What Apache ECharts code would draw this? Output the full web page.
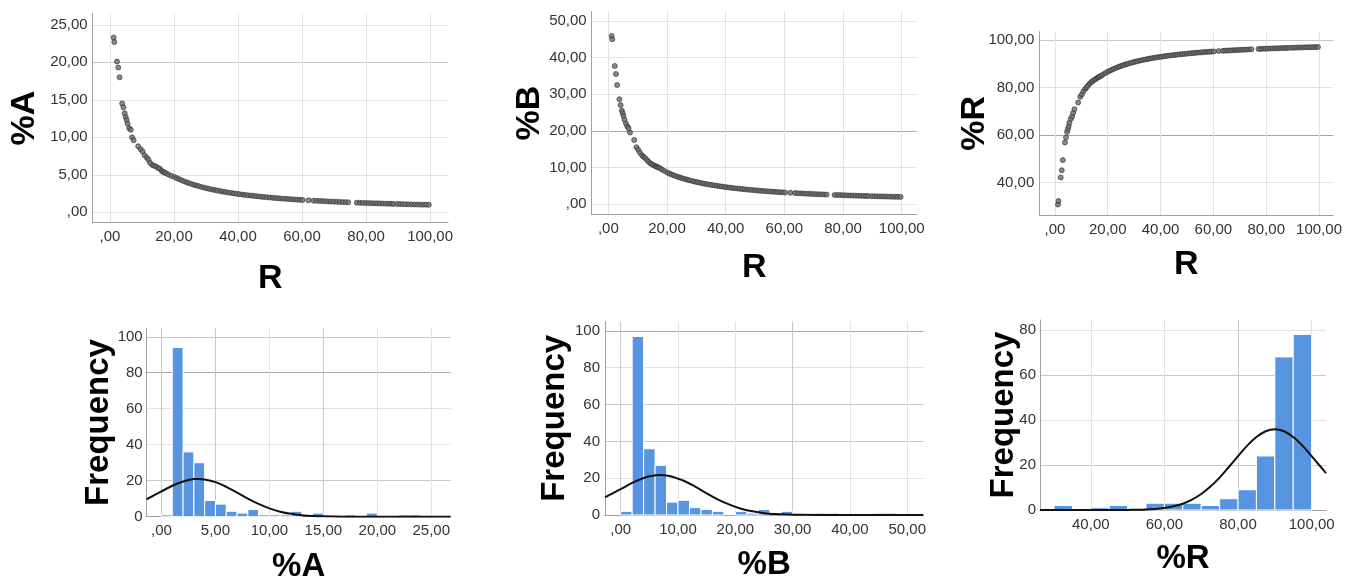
<!DOCTYPE html>
<html><head><meta charset="utf-8">
<script src="https://cdn.jsdelivr.net/npm/echarts@6/dist/echarts.min.js"></script>
<style>html,body{margin:0;padding:0;background:#fff}#c{width:1348px;height:581px}</style>
</head><body><div id="c"></div>
<script>
// ---------- data ----------
const rValues = [1.15,1.35,2.2,2.6,3.0,3.8,4.2,4.6,4.9,5.2,5.5,6.0,6.5,6.9,7.4,8.8,9.6,10.2,10.8,11.5,12.0,12.5,13.2,13.8,14.4,15.0,15.6,16.2,16.6,17.0,
17.6,18.3,19.2,
20.1,20.9,21.6,22.4,23.2,24.0,24.7,25.5,26.3,27.0,27.8,28.7,29.5,30.3,31.1,32.0,32.8,33.6,34.5,35.3,36.2,37.0,37.9,38.7,39.6,40.4,41.3,42.1,43.0,43.9,44.7,45.6,46.4,47.3,48.1,49.0,49.9,50.8,51.6,52.5,53.3,54.2,55.1,55.9,56.8,57.6,58.5,59.3,60.2,
62.0,63.6,64.5,65.4,66.3,67.2,68.1,69.0,69.9,70.8,71.7,72.6,73.5,74.4,
77.1,78.0,78.9,79.8,80.7,81.6,82.5,83.4,84.3,85.2,86.1,87.0,87.8,88.5,
89.7,90.6,91.5,92.4,93.3,94.2,95.1,96.0,96.9,97.8,98.7,99.6];

const pctA = [23.3,22.7,20.1,19.3,18.0,14.5,14.0,13.2,12.7,12.3,11.8,11.2,11.0,10.0,9.6,8.8,8.4,8.1,7.6,7.3,7.0,6.6,6.3,6.2,6.1,5.9,5.8,5.5,5.4,5.3,
5.20,5.02,4.85,
4.72,4.55,4.41,4.26,4.12,3.99,3.88,3.76,3.65,3.56,3.47,3.36,3.27,3.19,3.11,3.03,2.96,2.89,2.82,2.75,2.69,2.63,2.57,2.52,2.46,2.42,2.36,2.32,2.27,2.23,2.19,2.15,2.11,2.07,2.04,2.00,1.97,1.93,1.90,1.87,1.84,1.81,1.79,1.76,1.73,1.71,1.68,1.66,1.64,
1.59,1.55,1.53,1.51,1.49,1.47,1.45,1.43,1.41,1.40,1.38,1.36,1.35,1.33,
1.28,1.27,1.25,1.24,1.23,1.21,1.20,1.19,1.18,1.16,1.15,1.14,1.13,1.12,
1.11,1.09,1.08,1.07,1.06,1.05,1.04,1.03,1.02,1.02,1.01,1.00];

const pctB = [45.9,45.0,37.7,35.5,32.5,28.6,27.0,25.5,24.8,24.0,23.0,22.0,21.2,20.7,19.5,17.5,15.5,14.8,14.0,13.3,12.9,12.6,12.0,11.5,11.1,10.8,10.5,10.3,10.2,10.0,
9.80,9.40,9.00,
8.58,8.30,8.06,7.81,7.58,7.35,7.17,6.97,6.78,6.62,6.45,6.27,6.12,5.97,5.83,5.68,5.56,5.43,5.31,5.19,5.08,4.98,4.87,4.77,4.67,4.59,4.49,4.41,4.33,4.25,4.18,4.10,4.03,3.96,3.90,3.83,3.77,3.70,3.65,3.59,3.54,3.48,3.43,3.38,3.33,3.29,3.24,3.20,3.15,
3.07,2.99,2.95,2.92,2.88,2.84,2.81,2.77,2.74,2.70,2.67,2.64,2.61,2.58,
2.49,2.46,2.44,2.41,2.38,2.36,2.33,2.31,2.29,2.26,2.24,2.22,2.20,2.18,
2.15,2.13,2.11,2.09,2.07,2.05,2.03,2.02,2.00,1.98,1.96,1.95];

const pctR = [30.8,32.3,42.2,45.2,49.5,56.9,59.0,61.3,62.5,63.7,65.2,66.8,67.8,69.3,70.9,73.7,76.1,77.1,78.4,79.4,80.1,80.8,81.7,82.3,82.8,83.3,83.7,84.2,84.4,84.7,
85.00,85.58,86.15,
86.70,87.15,87.53,87.93,88.30,88.66,88.95,89.27,89.57,89.82,90.08,90.37,90.61,90.84,91.06,91.29,91.48,91.68,91.87,92.06,92.23,92.39,92.56,92.71,92.87,92.99,93.15,93.27,93.40,93.52,93.63,93.75,93.86,93.97,94.06,94.17,94.26,94.37,94.45,94.54,94.62,94.71,94.78,94.86,94.94,95.00,95.08,95.14,95.21,
95.34,95.46,95.52,95.57,95.63,95.69,95.74,95.80,95.85,95.90,95.95,96.00,96.04,96.09,
96.23,96.27,96.31,96.35,96.39,96.43,96.47,96.50,96.53,96.58,96.61,96.64,96.67,96.70,
96.74,96.78,96.81,96.84,96.87,96.90,96.93,96.95,96.98,97.00,97.03,97.05];

// histograms: bin edges and counts
const histAEdges = [0,1,2,3,4,5,6,7,8,9,10,11,12,13,14,15,16,17,18,19,20,21,22,23,24];
const histACounts = [1,94,36,30,9,7,3,2,4,1,1,1,3,0,2,0,0,1,0,2,0,0,1,1];
const histBEdges = [0,2,4,6,8,10,12,14,16,18,20,22,24,26,28,30,32,34,36,38,40,42,44,46,48];
const histBCounts = [2,97,36,27,7,8,4,3,2,0,2,1,3,0,2,0,1,1,1,0,0,0,1,1];
const histREdges = [30,35,40,45,50,55,60,65,70,75,80,85,90,95,100];
const histRCounts = [2,0,1,2,0,3,3,3,2,5,9,24,68,78];

// normal curves, points
const curveAX = [-1.37,0,1,2,3,3.4,4,5,6,7,8,9,10,11,12,13,14,15,17,20,26.8];
const curveAY = [9.7,14.1,17.2,19.6,20.9,21.0,20.7,19.2,16.6,13.4,10.1,7.1,4.6,2.8,1.6,0.86,0.43,0.2,0.03,0,0];
const curveBX = [-2.74,0,2,4,5,6.9,8,9,11,13,15,17,19,21,23,25,27,29,32,36,52.8];
const curveBY = [9.6,14.0,17.4,20.1,21.0,21.7,21.5,20.8,18.6,15.4,11.8,8.4,5.6,3.4,2.0,1.0,0.5,0.24,0.07,0.01,0];
const curveRX = [26.2,45,50,55,60,62.5,65,67.5,70,72.5,75,77.5,80,82.5,85,87.5,90,92.5,95,97.5,100,102.5,103.9];
const curveRY = [0,0.01,0.05,0.25,0.93,1.67,2.8,4.6,7.1,10.4,14.4,19.1,23.9,28.6,32.4,35.0,35.9,35.0,32.4,28.6,23.9,19.1,16.4];

// tick values
const ticksR = [0,20,40,60,80,100];
const ticksA = [0,5,10,15,20,25];
const ticksB = [0,10,20,30,40,50];
const ticksPR = [40,60,80,100];
const ticksFreq100 = [0,20,40,60,80,100];
const ticksFreq80 = [0,20,40,60,80];
const ticksHistA = [0,5,10,15,20,25];
const ticksHistB = [0,10,20,30,40,50];
const ticksHistR = [40,60,80,100];

// ---------- chart ----------
const FONT = '"Liberation Sans", Arial, sans-serif';
const L = '#e2e2e2', M = '#c8c8c8', D = '#a6a6a6';
const AXC = '#a0a0a0';

function fmt2(v) {
  let s = Math.abs(v) < 1e-9 ? '0.00' : v.toFixed(2);
  s = s.replace('.', ',');
  if (s.indexOf('0,') === 0) s = s.slice(1);
  return s;
}
function fmtInt(v) { return String(Math.round(v)); }

function axis(o) {
  return {
    type: 'value', gridIndex: o.grid, min: o.min, max: o.max,
    axisLine: { show: o.line !== false, onZero: false, lineStyle: { color: AXC, width: 1 } },
    axisTick: { show: false, customValues: o.ticks },
    axisLabel: { customValues: o.ticks, formatter: o.fmt, margin: o.margin,
      color: '#333', fontSize: 15, fontFamily: FONT },
    splitLine: { show: true, lineStyle: { color: o.colors, width: 1 } },
    name: o.name, nameLocation: 'middle', nameGap: o.gap, nameMoveOverlap: false,
    nameTextStyle: { fontSize: o.nameSize, fontWeight: 'bold', color: '#000', fontFamily: FONT }
  };
}

function barRender(params, api) {
  const x0 = api.value(0), x1 = api.value(1), c = api.value(2);
  if (!c) return null;
  const p0 = api.coord([x0, 0]);
  const p1 = api.coord([x1, c]);
  return {
    type: 'rect',
    shape: { x: p0[0], y: p1[1], width: p1[0] - p0[0], height: p0[1] - p1[1] },
    style: { fill: '#5795e1', stroke: '#ffffff', lineWidth: 1 }
  };
}

function zipXY(xs, ys) { return xs.map((x, i) => [x, ys[i]]); }
function histData(edges, counts) { return counts.map((c, i) => [edges[i], edges[i + 1], c]); }

const grids = [
  { left: 92.7, top: 13.3, width: 355.3, height: 209.4 },
  { left: 591.7, top: 11.7, width: 325, height: 202.6 },
  { left: 1039.3, top: 31.7, width: 294, height: 183.3 },
  { left: 146.7, top: 328.3, width: 304, height: 188.4 },
  { left: 605, top: 321.7, width: 318.3, height: 193.3 },
  { left: 1040, top: 320, width: 286, height: 190 }
].map(g => Object.assign({ containLabel: false, outerBoundsMode: 'none' }, g));

const xAxes = [
  axis({ grid: 0, min: -5.4, max: 105.6, ticks: ticksR, fmt: fmt2, margin: 7, colors: [L, L, L, L, L, L], name: 'R', gap: 38.6, nameSize: 34 }),
  axis({ grid: 1, min: -5.66, max: 105.1, ticks: ticksR, fmt: fmt2, margin: 7, colors: [L, L, L, L, L, L], name: 'R', gap: 36.2, nameSize: 34 }),
  axis({ grid: 2, min: -5.9, max: 105.4, ticks: ticksR, fmt: fmt2, margin: 7, colors: [L, L, L, L, L, L], name: 'R', gap: 32.2, nameSize: 34 }),
  axis({ grid: 3, min: -1.37, max: 26.8, ticks: ticksHistA, fmt: fmt2, margin: 7, colors: [M, M, L, M, L, L], name: '%A', gap: 33.5, nameSize: 33 }),
  axis({ grid: 4, min: -2.74, max: 52.8, ticks: ticksHistB, fmt: fmt2, margin: 7, colors: [M, L, L, M, L, L], name: '%B', gap: 33.5, nameSize: 33 }),
  axis({ grid: 5, min: 26.2, max: 103.9, ticks: ticksHistR, fmt: fmt2, margin: 7, colors: [L, L, M, L], name: '%R', gap: 32.7, nameSize: 33 })
];
const yAxes = [
  axis({ grid: 0, min: -1.39, max: 26.53, ticks: ticksA, fmt: fmt2, margin: 5, colors: [L, L, L, L, M, L], name: '%A', gap: 50.7, nameSize: 34 }),
  axis({ grid: 1, min: -2.8, max: 52.5, ticks: ticksB, fmt: fmt2, margin: 5, colors: [L, L, D, L, L, L], name: '%B', gap: 44.7, nameSize: 34 }),
  axis({ grid: 2, min: 26.4, max: 103.5, ticks: ticksPR, fmt: fmt2, margin: 5, colors: [L, D, L, M], name: '%R', gap: 47.3, nameSize: 34 }),
  axis({ grid: 3, min: 0, max: 104.7, ticks: ticksFreq100, fmt: fmtInt, margin: 4, colors: [M, M, L, L, D, M], name: 'Frequency', gap: 31, nameSize: 33 }),
  axis({ grid: 4, min: 0, max: 105, ticks: ticksFreq100, fmt: fmtInt, margin: 5, colors: [M, L, M, M, L, D], name: 'Frequency', gap: 33.3, nameSize: 33 }),
  axis({ grid: 5, min: 0, max: 84.4, ticks: ticksFreq80, fmt: fmtInt, margin: 4, colors: [M, M, L, M, L], name: 'Frequency', gap: 20, nameSize: 33 })
];

const dot = { symbol: 'circle', symbolSize: 5, itemStyle: { color: '#6b6b6b', borderColor: '#2e2e2e', borderWidth: 0.8 } };
const curveStyle = { showSymbol: false, symbol: 'none', smooth: 0.35, lineStyle: { color: '#111', width: 2 }, z: 5, silent: true };

const series = [
  Object.assign({ type: 'scatter', xAxisIndex: 0, yAxisIndex: 0, data: zipXY(rValues, pctA) }, dot),
  Object.assign({ type: 'scatter', xAxisIndex: 1, yAxisIndex: 1, data: zipXY(rValues, pctB) }, dot),
  Object.assign({ type: 'scatter', xAxisIndex: 2, yAxisIndex: 2, data: zipXY(rValues, pctR) }, dot),
  { type: 'custom', xAxisIndex: 3, yAxisIndex: 3, data: histData(histAEdges, histACounts), encode: { x: [0, 1], y: 2 }, renderItem: barRender },
  { type: 'custom', xAxisIndex: 4, yAxisIndex: 4, data: histData(histBEdges, histBCounts), encode: { x: [0, 1], y: 2 }, renderItem: barRender },
  { type: 'custom', xAxisIndex: 5, yAxisIndex: 5, data: histData(histREdges, histRCounts), encode: { x: [0, 1], y: 2 }, renderItem: barRender },
  Object.assign({ type: 'line', xAxisIndex: 3, yAxisIndex: 3, data: zipXY(curveAX, curveAY) }, curveStyle),
  Object.assign({ type: 'line', xAxisIndex: 4, yAxisIndex: 4, data: zipXY(curveBX, curveBY) }, curveStyle),
  Object.assign({ type: 'line', xAxisIndex: 5, yAxisIndex: 5, data: zipXY(curveRX, curveRY) }, curveStyle)
];

const chart = echarts.init(document.getElementById('c'));
chart.setOption({
  backgroundColor: '#ffffff',
  animation: false,
  grid: grids,
  xAxis: xAxes,
  yAxis: yAxes,
  series: series
});
</script></body></html>
